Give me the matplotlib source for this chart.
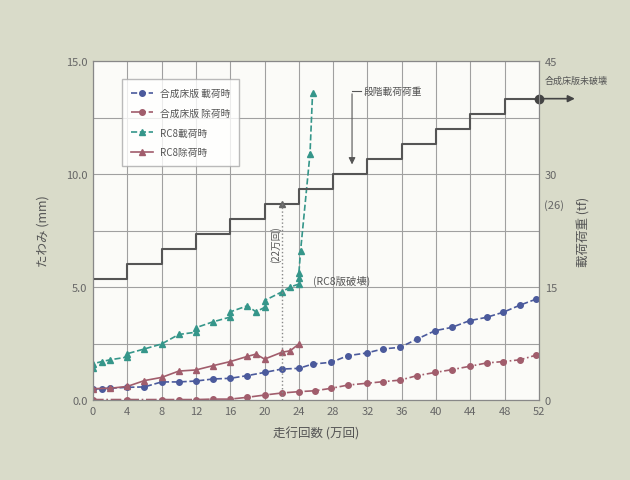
import matplotlib.pyplot as plt

plt.rcParams['font.family'] = ['Noto Sans CJK JP', 'DejaVu Sans']

# 走行回数 (万回)
steps_x = [0, 4, 8, 12, 16, 20, 24, 28, 32, 36, 40, 44, 48, 52]
step_load = [16, 18, 20, 22, 24, 26, 28, 30, 32, 34, 36, 38, 40, 40]  # tf

comp_load_x = [0, 1, 2, 4, 6, 8, 10, 12, 14, 16, 18, 20, 22, 24, 25.6, 27.8, 29.7,
               31.9, 33.8, 35.8, 37.8, 39.9, 41.8, 43.9, 45.9, 47.8, 49.8, 51.7]
comp_load_y = [0.49, 0.5, 0.52, 0.56, 0.58, 0.8, 0.8, 0.84, 0.93, 0.96, 1.08, 1.22, 1.37,
               1.4, 1.59, 1.67, 1.96, 2.08, 2.26, 2.33, 2.7, 3.07, 3.21, 3.51, 3.66, 3.88,
               4.2, 4.47]

comp_unload_x = [0, 4, 8, 10, 12, 14, 16, 18, 20, 22, 24, 25.9, 27.8, 29.7, 31.9, 33.8,
                 35.8, 37.8, 39.9, 41.8, 43.9, 45.9, 47.8, 49.8, 51.7]
comp_unload_y = [0.02, 0.02, 0.02, 0.02, 0.02, 0.04, 0.04, 0.12, 0.22, 0.31, 0.37, 0.41,
                 0.52, 0.66, 0.74, 0.81, 0.88, 1.08, 1.22, 1.34, 1.49, 1.64, 1.7, 1.78, 1.99]

rc_load_x = [0, 0, 1, 2, 4, 4, 6, 8, 10, 12, 12, 14, 16, 16, 18, 19, 20, 20, 22, 23, 24,
             24, 24, 24.2, 25.3, 25.6]
rc_load_y = [1.4, 1.6, 1.7, 1.78, 1.9, 2.05, 2.26, 2.48, 2.9, 3.0, 3.2, 3.46, 3.67, 3.9,
             4.17, 3.9, 4.1, 4.4, 4.78, 5.0, 5.13, 5.4, 5.6, 6.6, 10.9, 13.6]

rc_unload_x = [0, 2, 4, 6, 8, 10, 12, 14, 16, 18, 19, 20, 22, 23, 24]
rc_unload_y = [0.5, 0.52, 0.6, 0.86, 1.0, 1.28, 1.33, 1.52, 1.7, 1.93, 2.03, 1.81, 2.11,
               2.18, 2.48]

xticks = list(range(0, 53, 4))

fig = plt.figure(figsize=(6.3, 4.81), dpi=100, facecolor='#d9dbc9')
ax = fig.add_axes([0.1476, 0.1663, 0.708, 0.7048])
ax.set_facecolor('#fbfbf8')
ax2 = ax.twinx()

blue = '#4b5a9c'
mauve = '#a15d6c'
teal = '#35968a'

ax.plot(comp_load_x, comp_load_y, '--', color=blue, marker='o', ms=4, lw=1.2,
        label='合成床版 載荷時')
ax.plot(comp_unload_x, comp_unload_y, '-.', color=mauve, marker='o', ms=4, lw=1.2,
        label='合成床版 除荷時')
ax.plot(rc_load_x, rc_load_y, '--', color=teal, marker='^', ms=4, lw=1.2,
        label='RC8載荷時')
ax.plot(rc_unload_x, rc_unload_y, '-', color=mauve, marker='^', ms=4, lw=1.2,
        label='RC8除荷時')

ax2.step(steps_x, step_load, where='post', color='#555555', lw=1.5)
ax2.plot([52], [40], 'o', color='#444444', ms=6, clip_on=False)
ax2.plot([22], [26], '^', color='#666666', ms=4)
ax2.plot([22, 22], [0, 26], ':', color='#888888', lw=1)

ax.set_xlim(0, 52)
ax.set_ylim(0, 15)
ax2.set_ylim(0, 45)
ax.set_xticks(xticks)
ax.set_yticks([0, 5, 10, 15])
ax.set_yticklabels(['0.0', '5.0', '10.0', '15.0'])
ax.set_yticks([2.5, 7.5, 12.5], minor=True)
ax2.set_yticks([0, 15, 30, 45])
ax.grid(True, which='both', color='#a0a0a0', lw=0.8)
for a in (ax, ax2):
    a.tick_params(which='both', length=0, labelsize=8, colors='#666666', pad=4)
    for s in a.spines.values():
        s.set_color('#888888')

ax.set_xlabel('走行回数 (万回)', fontsize=9, color='#555555', labelpad=8)
ax.set_ylabel('たわみ (mm)', fontsize=9, color='#555555', labelpad=12)
ax2.set_ylabel('載荷荷重 (tf)', fontsize=9, color='#555555', labelpad=14)

ax2.text(52.6, 26, '(26)', fontsize=8, color='#666666', va='center', clip_on=False)

# annotations
ax.plot([30.2, 31.2], [13.67, 13.67], color='#555555', lw=0.8)
ax.annotate('', xy=(30.2, 10.3), xytext=(30.2, 13.67),
            arrowprops=dict(arrowstyle='-|>', color='#555555', lw=0.8))
ax.text(31.5, 13.67, '段階載荷荷重', fontsize=7, color='#555555', va='center')
ax.text(21.3, 6.9, '(22万回)', fontsize=7, color='#555555', rotation=90,
        ha='center', va='center')
ax.text(25.6, 5.27, '(RC8版破壊)', fontsize=7.5, color='#555555', va='center')
ax2.annotate('', xy=(56.5, 40), xytext=(52, 40), annotation_clip=False,
             arrowprops=dict(arrowstyle='-|>', color='#444444', lw=1.2))
ax2.text(52.7, 42.5, '合成床版未破壊', fontsize=6.5, color='#555555', va='center',
         clip_on=False)

leg = ax.legend(loc='upper left', bbox_to_anchor=(0.055, 0.96), fontsize=7,
                frameon=True, fancybox=False, labelspacing=1.0, handlelength=2.2,
                borderpad=0.9)
leg.get_frame().set_edgecolor('#aaaaaa')
leg.get_frame().set_facecolor('white')
for t in leg.get_texts():
    t.set_color('#555555')

fig.savefig('out.png', dpi=100, facecolor=fig.get_facecolor())
